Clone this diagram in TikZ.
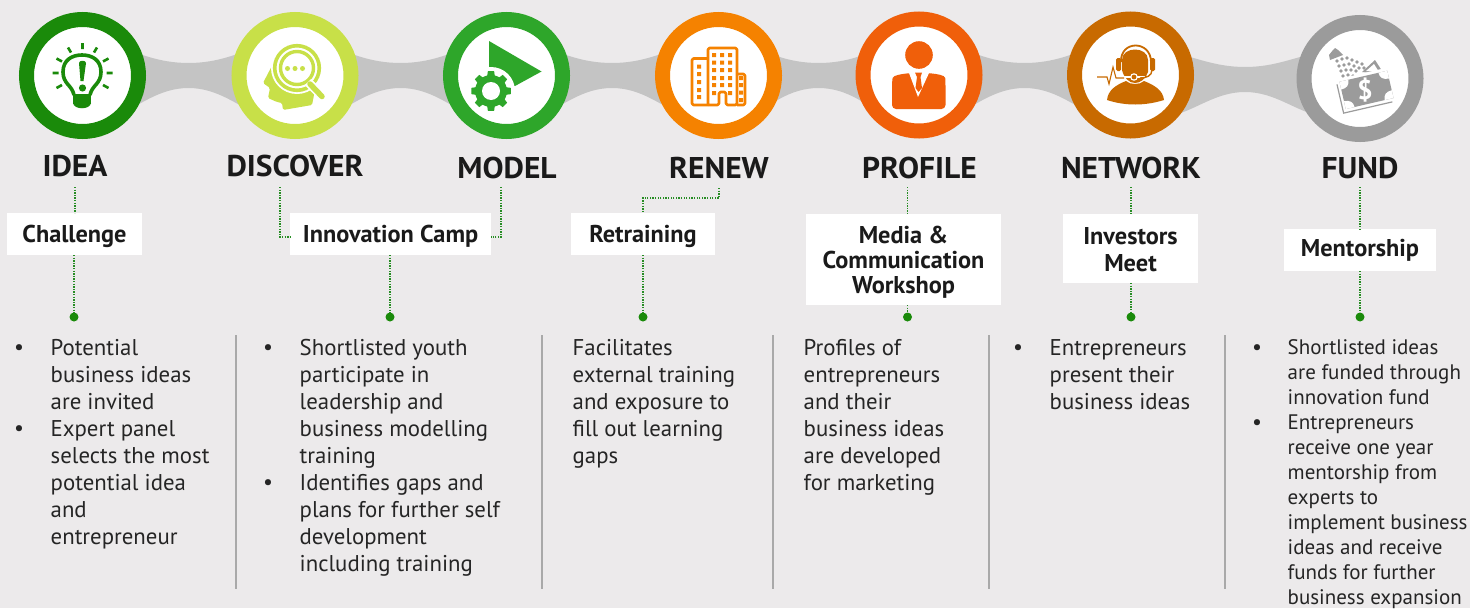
\documentclass[tikz,border=0pt]{standalone}
\usepackage{fontspec}
\setmainfont{PT Sans}
\newfontfamily\ttlfont{PT Sans}[FakeStretch=1.05]
\usetikzlibrary{calc}
\definecolor{bg}{HTML}{ECEAEB}
\definecolor{band}{HTML}{C4C4C4}
\definecolor{cidea}{HTML}{1A8A0A}
\definecolor{cdisc}{HTML}{C8E048}
\definecolor{cmodel}{HTML}{2EA62A}
\definecolor{crenew}{HTML}{F58200}
\definecolor{cprof}{HTML}{F05F0A}
\definecolor{cnet}{HTML}{C86A00}
\definecolor{cfund}{HTML}{9B9B9B}
\definecolor{sep}{HTML}{A9A9A9}
\definecolor{ink}{HTML}{1A1A1A}
\newcommand{\lowr}[2]{\raisebox{-#1pt}[\height][\depth]{\vphantom{Ig}#2}}
\newcommand{\gapband}[3]{% left centre x, right centre x, y offset
  \fill[band] ({#1},{#3+15}) -- ({#1+40},{#3-27}) .. controls ({(#1+#2)/2-50},{#3-27+5}) and ({(#1+#2)/2-30},{#3-12}) .. ({(#1+#2)/2},{#3-12})
   .. controls ({(#1+#2)/2+30},{#3-12}) and ({(#1+#2)/2+50},{#3-27+5}) .. ({#2-40},{#3-27}) -- ({#2},{#3+15})
   -- ({#2-40},{#3+37}) .. controls ({(#1+#2)/2+50},{#3+32}) and ({(#1+#2)/2+30},{#3+13}) .. ({(#1+#2)/2},{#3+13})
   .. controls ({(#1+#2)/2-30},{#3+13}) and ({(#1+#2)/2-50},{#3+32}) .. ({#1+40},{#3+37}) -- cycle;}
\tikzset{
  x=1pt,y=-1pt,
  ring/.style={circle,fill=white,draw=#1,line width=15pt,minimum size=112pt,inner sep=0pt,outer sep=0pt},
  title/.style={font=\ttlfont\fontsize{30}{30}\selectfont\bfseries,text=ink,inner sep=0pt,anchor=base},
  boxt/.style={fill=white,text=ink,font=\fontsize{24.3}{25}\selectfont\bfseries,align=center,inner sep=0pt,outer sep=0pt},
  dotn/.style={circle,fill=cidea,minimum size=9pt,inner sep=0pt,outer sep=0pt},
  link/.style={draw=cmodel!85!black,line width=1.3pt,dash pattern=on 1.3pt off 1.3pt},
  body/.style={font=\fontsize{22.8}{27}\selectfont,text=ink!95,align=left,anchor=north west,inner sep=0pt},
  bodyf/.style={font=\fontsize{21}{25.05}\selectfont,text=ink!95,align=left,anchor=north west,inner sep=0pt},
  bul/.style={font=\fontsize{22}{27}\selectfont,text=ink!95,inner sep=0pt},
  sepl/.style={draw=sep,line width=1.4pt},
}
\begin{document}
\begin{tikzpicture}
\path[use as bounding box] (0,0) rectangle (1470,608);
\fill[bg] (0,0) rectangle (1470,608);
% bands
\gapband{82}{295}{75}
\gapband{295}{506}{75}
\gapband{506}{718}{75}
\gapband{718}{919}{75}
\gapband{919}{1130}{75}
\gapband{1130}{1360}{79}
% rings
\node[ring=cidea] (r1) at (82.5,75.5) {};
\node[ring=cdisc] (r2) at (295,75.5) {};
\node[ring=cmodel] (r3) at (506.5,75.5) {};
\node[ring=crenew] (r4) at (718.5,75.5) {};
\node[ring=cprof] (r5) at (919,75) {};
\node[ring=cnet] (r6) at (1130.5,75) {};
\node[ring=cfund] (r7) at (1360,78.5) {};
% --- bulb
\begin{scope}[cidea]
\draw[line width=3.6pt] (74,95) .. controls (72,85) and (63,84) .. (63,72) .. controls (63,60) and (72,55) .. (82,55) .. controls (92,55) and (101,60) .. (101,72) .. controls (101,84) and (92,85) .. (90,95);
\fill (73,94) rectangle (91,104);
\fill (73,103) .. controls (74,110) and (90,110) .. (91,103) -- cycle;
\fill (79,63) .. controls (79,60) and (86,60) .. (86,63) -- (83.5,81) -- (80.5,81) -- cycle;
\fill (82.5,88) circle (3.6);
\draw[line width=2.6pt]
 (82.5,43)--(82.5,49) (68,47.5)--(71,52.5) (97,47.5)--(94,52.5)
 (56.5,58.5)--(62,61.5) (108.5,58.5)--(103,61.5)
 (52.5,73)--(58.5,73) (112.5,73)--(106.5,73)
 (56.5,88)--(62,85) (108.5,88)--(103,85);
\end{scope}
% --- discover icon
\begin{scope}[cdisc]
\fill[rounded corners=1.5pt] (275,60) -- (263,83) -- (270,88) -- (268,98) -- (277,102) -- (282,103) -- (283,110) -- (312,105) -- (314,95) -- (314,80) -- cycle;
\fill[white] (297,68) circle (26);
\draw[line width=3.6pt] (297,68) circle (22.3);
\draw[line width=3.4pt] (297,68) circle (16.5);
\draw[white,line width=9pt] (308,82)--(326,100);
\draw[line width=5.5pt,line cap=round] (310,84)--(322,96.5);
\fill (287.5,68.5) circle (2.5) (295,68.5) circle (2.5) (302.5,68.5) circle (2.5);
\end{scope}
% --- model icon
\begin{scope}[cmodel]
\fill (489,41) -- (541.5,71.5) -- (515,86) -- (489,80) -- cycle;
\fill[white] (491,91) circle (24);
\fill \foreach \a in {0,45,...,315} {
  ($(491,91)+(\a-9:20)$) -- ($(491,91)+(\a+9:20)$) -- ($(491,91)+(\a+15:15)$) -- ($(491,91)+(\a-15:15)$) -- cycle };
\fill (491,91) circle (16);
\fill[white] (491,91) circle (9);
\end{scope}
% --- buildings
\begin{scope}[crenew,line width=2.6pt,line join=round]
\draw[rounded corners=1.5pt] (708,58.5) -- (692,58.5) -- (692,105) -- (708,105);
\draw[rounded corners=1.5pt] (708,105) -- (708,48) -- (737,48) -- (737,105) -- (726,105) -- (726,92) -- (719,92) -- (719,105) -- (708,105);
\draw[rounded corners=1.5pt] (737,74) -- (745,74) -- (745,105) -- (737,105);
\fill \foreach \x in {699} { \foreach \y in {66.5,74,82,90,97} { (\x-2,\y-2) rectangle (\x+2,\y+2) }};
\fill \foreach \x in {714,722,730} { \foreach \y in {55,62.5,70,78,85} { (\x-2,\y-2) rectangle (\x+2,\y+2) }};
\fill (714-2,93-2) rectangle (714+2,93+2) (730-2,93-2) rectangle (730+2,93+2);
\fill \foreach \y in {78,85,92.5,100} { (741-2,\y-2) rectangle (741+2,\y+2) };
\end{scope}
% --- profile
\begin{scope}[cprof]
\fill (919,55) circle (13.8);
\fill[rounded corners=4pt] (892,109) -- (892,82) .. controls (893,75) and (903,74) .. (910,73) -- (928,73) .. controls (936,74) and (945,75) .. (945.5,82) -- (945.5,109) -- cycle;
\fill[white] (909,73) -- (918,97) -- (929,73) -- cycle;
\fill (915,72.5) -- (922,72.5) -- (920.5,77) -- (922,88) -- (918.5,92) -- (915.5,88) -- (917,77) -- cycle;
\end{scope}
% --- network
\begin{scope}[cnet]
\fill (1107,100) .. controls (1108,90) and (1116,85) .. (1126,81) .. controls (1130,85) and (1140,85) .. (1144,81) .. controls (1154,85) and (1163,90) .. (1164,100) .. controls (1145,106) and (1125,106) .. (1107,100) -- cycle;
\fill (1122,60) .. controls (1122,46) and (1148,46) .. (1148,60) -- (1148,72) .. controls (1146,79) and (1140,83) .. (1135,83) .. controls (1129,83) and (1124,78) .. (1122,70) -- cycle;
\draw[line width=1.8pt] (1121,62) .. controls (1120,40) and (1151,40) .. (1151,62);
\fill[rounded corners=1.5pt] (1116,58) rectangle (1121,71);
\fill[rounded corners=1.5pt] (1150,58) rectangle (1155,71);
\draw[white,line width=2pt] (1121,77) -- (1145,77);
\draw[line width=1.1pt] (1097,77) -- (1107,77) -- (1109,84) -- (1113,67) -- (1116,78) -- (1124,78);
\draw[line width=1.4pt] (1152,70) .. controls (1152,76) and (1146,78) .. (1140,78);
\fill[white] (1134,77) circle (3.8);
\fill (1134,77) circle (2.4);
\end{scope}
% --- fund
\begin{scope}[cfund]
\fill (1330,60) -- (1329,55) -- (1333,50) -- (1335,48) -- (1338,50) -- (1343,55) -- cycle;
\fill \foreach \p in {(1337,61),(1342,59),(1347,58),(1352,60),(1357,62),(1362,64),(1339,66),(1344,65),(1349,64),(1354,66),(1359,68),(1364,68),(1341,71),(1346,70),(1351,70),(1356,71),(1343,76),(1348,75),(1353,76)} { \p circle (1.9) };
\fill (1362,72) -- (1375,60) -- (1384,74) -- cycle;
\fill[white] (1366,71) -- (1374,64) -- (1379,72) -- cycle;
\begin{scope}[rotate around={13:(1366,90)}]
\fill[white] (1336,73) rectangle (1393,112);
\fill (1342,76) rectangle (1391,104);
\draw[line width=1.2pt] (1339,78) -- (1339,107.5) -- (1389,107.5);
\fill[white] (1342,76) -- (1342,84) .. controls (1348,84) and (1351,81) .. (1351,76) -- cycle;
\fill[white] (1391,76) -- (1391,84) .. controls (1385,84) and (1382,81) .. (1382,76) -- cycle;
\fill[white] (1342,104) -- (1342,96) .. controls (1348,96) and (1351,99) .. (1351,104) -- cycle;
\fill[white] (1391,104) -- (1391,96) .. controls (1385,96) and (1382,99) .. (1382,104) -- cycle;
\end{scope}
\node[white,font=\fontsize{27}{27}\selectfont\bfseries,inner sep=0pt] (dollar) at (1365,90) {\$};
\end{scope}
% titles
\node[title] (t1) at (75,176) {IDEA};
\node[title] (t2) at (295,176) {DISCOVER};
\node[title] (t3) at (507,178) {MODEL};
\node[title] (t4) at (719,178) {RENEW};
\node[title] (t5) at (919.5,178) {PROFILE};
\node[title] (t6) at (1131,178) {NETWORK};
\node[title] (t7) at (1360,178) {FUND};
% label boxes
\node[boxt,minimum width=135pt,minimum height=42pt] (b1) at (74.5,234) {\lowr{2}{Challenge}};
\node[boxt,minimum width=201pt,minimum height=42pt] (b2) at (390.5,234) {\lowr{2}{Innovation Camp}};
\node[boxt,minimum width=144pt,minimum height=42pt] (b4) at (643,234) {\lowr{2}{Retraining}};
\node[boxt,minimum width=195pt,minimum height=91pt] (b5) at (903.5,259.5) {\lowr{2.5}{Media \&}\\\lowr{2.5}{Communication}\\\lowr{2.5}{Workshop}};
\node[boxt,minimum width=135pt,minimum height=69pt] (b6) at (1130.5,248.5) {\lowr{4}{Investors}\\[2pt]\lowr{4}{Meet}};
\node[boxt,minimum width=152pt,minimum height=42pt] (b7) at (1360,250) {\lowr{0}{Mentorship}};
% dots
\node[dotn] (d1) at (74,317) {};
\node[dotn] (d2) at (390,317) {};
\node[dotn] (d4) at (643,317) {};
\node[dotn] (d5) at (907.5,317) {};
\node[dotn] (d6) at (1131,317) {};
\node[dotn] (d7) at (1360,317) {};
% connector free ends
\coordinate (c1) at (75,187);
\coordinate (c2) at (280,187);
\coordinate (c3) at (501,187);
\coordinate (c4) at (719,188);
\coordinate (c5) at (907.5,187);
\coordinate (c6) at (1131,187);
\coordinate (c7) at (1360,187);
\draw[link] (c1) -- (c1 |- b1.north);
\draw[link] (b1.south -| d1) -- (d1);
\draw[link] (c2) |- ([yshift=-3pt]b2.west);
\draw[link] (c3) |- ([yshift=-3pt]b2.east);
\draw[link] (b2.south -| d2) -- (d2);
\draw[link] (c4) -- ++(0,10) -| (b4.north);
\draw[link] (b4.south) -- (d4);
\draw[link] (c5) -- (c5 |- b5.north);
\draw[link] (b5.south -| d5) -- (d5);
\draw[link] (c6) -- (c6 |- b6.north);
\draw[link] (b6.south -| d6) -- (d6);
\draw[link] (c7) -- (c7 |- b7.north);
\draw[link] (b7.south -| d7) -- (d7);
% separators
\foreach \x/\n in {236/s1,542/s2,773/s3,989/s4,1225/s5} {
  \coordinate (\n a) at (\x,335); \coordinate (\n b) at (\x,589);
  \draw[sepl] (\n a) -- (\n b);
}
% bodies
\node[bul] (u1) at (19,350) {•};
\node[bul] (u2) at (19,431) {•};
\node[body] (x1) at (50.5,339) {Potential\\business ideas\\are invited\\Expert panel\\selects the most\\potential idea\\and\\entrepreneur};
\node[bul] (u3) at (268,350) {•};
\node[bul] (u4) at (268,485) {•};
\node[body] (x2) at (299.5,339) {Shortlisted youth\\participate in\\leadership and\\business modelling\\training\\Identifies gaps and\\plans for further self\\development\\including training};
\node[body] (x3) at (572.5,339) {Facilitates\\external training\\and exposure to\\fill out learning\\gaps};
\node[body] (x4) at (803.5,339) {Profiles of\\entrepreneurs\\and their\\business ideas\\are developed\\for marketing};
\node[bul] (u5) at (1018,350) {•};
\node[body] (x5) at (1049.5,339) {Entrepreneurs\\present their\\business ideas};
\node[bul] (u6) at (1257,350) {•};
\node[bul] (u7) at (1257,425) {•};
\node[bodyf] (x6) at (1287.5,339) {Shortlisted ideas\\are funded through\\innovation fund\\Entrepreneurs\\receive one year\\mentorship from\\experts to\\implement business\\ideas and receive\\funds for further\\business expansion};
\end{tikzpicture}
\end{document}
